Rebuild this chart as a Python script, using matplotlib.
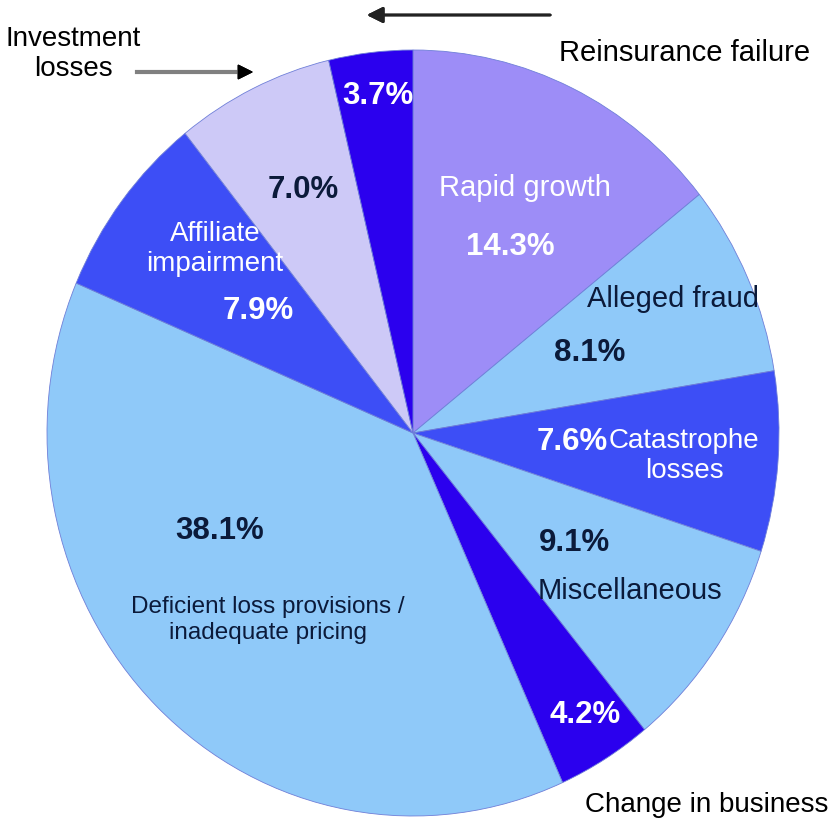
import matplotlib.pyplot as plt
from matplotlib.lines import Line2D

# Causes of insurer impairment, share of cases (%), clockwise from 12 o'clock
causes = ["Rapid growth", "Alleged fraud", "Catastrophe losses", "Miscellaneous",
          "Change in business", "Deficient loss provisions / inadequate pricing",
          "Affiliate impairment", "Investment losses", "Reinsurance failure"]
shares = [14.3, 8.1, 7.6, 9.1, 4.2, 38.1, 7.9, 7.0, 3.7]

LAV = "#9d8df7"
LIGHT = "#8fc9f9"
MID = "#3d4ef6"
DEEP = "#2b00ee"
PALE = "#cdc9f7"
colors = [LAV, LIGHT, MID, LIGHT, DEEP, LIGHT, MID, PALE, DEEP]

plt.rcParams["font.family"] = ["Liberation Sans", "DejaVu Sans"]

W, H = 834, 822
fig = plt.figure(figsize=(W / 100, H / 100), dpi=100)

# pie area in pixels (slightly taller than wide)
cx, cy, rx, ry = 413, 433, 366, 383
ax = fig.add_axes([(cx - rx) / W, (H - cy - ry) / H, 2 * rx / W, 2 * ry / H])
ax.pie(shares, colors=colors, startangle=90, counterclock=False,
       wedgeprops=dict(linewidth=0.6, edgecolor="#6f7fd8"))
ax.set_aspect("auto")
ax.set_xlim(-1, 1)
ax.set_ylim(-1, 1)
ax.axis("off")


def px(x, y):
    return x / W, 1 - y / H


def label(x, y, s, color="#0b1a3a", size=21, bold=False, ha="center"):
    fig.text(*px(x, y), s, color=color, fontsize=size, ha=ha, va="center",
             fontweight="bold" if bold else "normal", linespacing=1.2)


pcts = ["%.1f%%" % v for v in shares]
PS = 22.5

label(525, 188, causes[0], color="white")
label(510, 247, pcts[0], color="white", size=PS, bold=True)

label(673, 299, causes[1])
label(590, 353, pcts[1], size=PS, bold=True)

label(608, 442, pcts[2], color="white", size=PS, bold=True, ha="right")
label(684, 456, "Catastrophe\nlosses", color="white", size=20)

label(575, 543, pcts[3], size=PS, bold=True)
label(630, 591, causes[3])

label(585, 715, pcts[4], color="white", size=PS, bold=True)
label(707, 805, causes[4], color="black", size=20)

label(220, 531, pcts[5], size=PS, bold=True)
label(268, 620, "Deficient loss provisions /\ninadequate pricing", size=17.5)

label(215, 249, "Affiliate\nimpairment", color="white", size=20)
label(258, 311, pcts[6], color="white", size=PS, bold=True)

label(303, 190, pcts[7], size=PS, bold=True)
label(73, 54, "Investment\nlosses", color="black", size=20)

label(378, 96, pcts[8], color="white", size=PS, bold=True)
label(685, 53, causes[8], color="black")

# pointer arrows for the two small slices
fig.add_artist(Line2D([137 / W, 246 / W], [1 - 72 / H, 1 - 72 / H],
                      color="#808080", lw=3))
fig.add_artist(plt.annotate("", xy=px(256, 72), xytext=px(240, 72),
                            xycoords="figure fraction",
                            arrowprops=dict(arrowstyle="-|>", color="black",
                                            lw=1, mutation_scale=24)))
fig.add_artist(plt.annotate("", xy=px(364, 15), xytext=px(553, 15),
                            xycoords="figure fraction",
                            arrowprops=dict(arrowstyle="-|>", color="#222222",
                                            lw=2, mutation_scale=24)))

fig.savefig("out.png", dpi=100, facecolor="white")
